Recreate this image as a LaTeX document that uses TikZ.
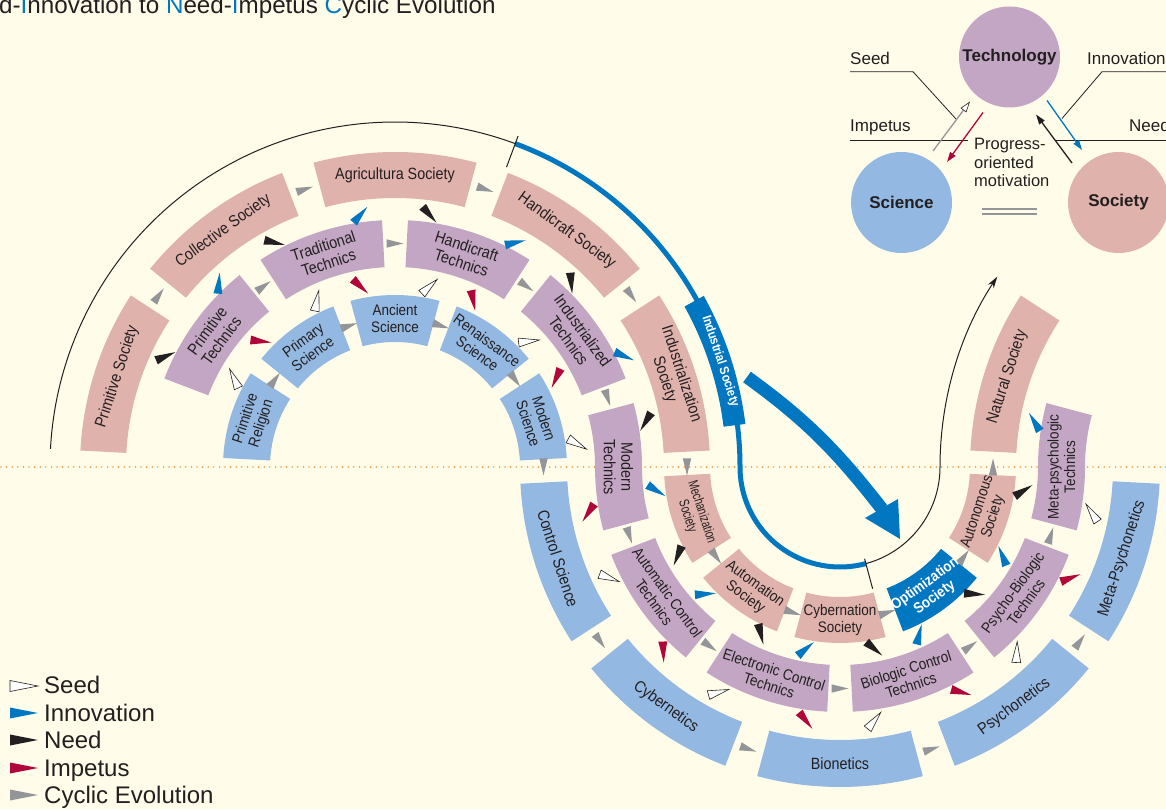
\documentclass[tikz,border=0pt]{standalone}
\usepackage{fontspec}
\setmainfont{Liberation Sans}
\newfontfamily\cond[FakeStretch=0.88]{Liberation Sans}
\newfontfamily\ccond[FakeStretch=0.72]{Liberation Sans}
\usetikzlibrary{calc,arrows.meta}
\definecolor{bg}{HTML}{FFFDE9}
\definecolor{soc}{HTML}{DFB2AB}
\definecolor{tec}{HTML}{C2A6C3}
\definecolor{sci}{HTML}{93B8E2}
\definecolor{iblue}{HTML}{0077C0}
\definecolor{ired}{HTML}{B1063A}
\definecolor{igray}{HTML}{939598}
\definecolor{ink}{HTML}{231F20}
\definecolor{dotor}{HTML}{F39A3B}
% annular sector: center, a1, a2, rin, rout, style
\newcommand\annsec[6]{\fill[#6] ($(#1)+(#2:#5pt)$) arc[start angle=#2,end angle=#3,radius=#5pt] -- ($(#1)+(#3:#4pt)$) arc[start angle=#3,end angle=#2,radius=#4pt] -- cycle;}
% cyclic (gray) arrow: center, angle, radius, direction
\newcommand\cycarr[4]{\fill[igray, shift={($(#1)+(#2:#3pt)$)}, rotate=#4] (8.5,0) -- (-8.5,4.2) -- (-8.5,-4.2) -- cycle;}
% radial arrow between two box centres
\newcommand\radarr[3]{\coordinate (m) at ($(#1)!0.5!(#2)$);
 \path[#3] ($(m)!10.5pt!(#2)$) -- ($(m)!11.4pt!157:(#2)$) -- ($(m)!11.4pt!-157:(#2)$) -- cycle;}
\tikzset{
 lbl/.style={font=\cond\fontsize{16.3}{17.5}\selectfont, text=ink, align=center, inner sep=0pt},
 lbm/.style={font=\cond\fontsize{15.3}{16.5}\selectfont, text=ink, align=center, inner sep=0pt},
 lbsm/.style={font=\ccond\fontsize{14}{15}\selectfont, text=ink, align=center, inner sep=0pt},
 lbw/.style={font=\cond\bfseries\fontsize{15}{16.5}\selectfont, text=white, align=center, inner sep=0pt},
 need/.style={fill=ink},
 innov/.style={fill=iblue},
 imp/.style={fill=ired},
 seedst/.style={fill=white, draw=ink, line width=0.6pt},
 lgd/.style={anchor=base west, font=\fontsize{24}{25}\selectfont, text=ink, inner sep=0pt},
 trl/.style={anchor=base west, font=\fontsize{17}{18}\selectfont, text=ink, inner sep=0pt},
 bigc/.style={circle, minimum size=101pt, inner sep=0pt, font=\bfseries\fontsize{17}{18}\selectfont, text=ink},
}
\begin{document}
\begin{tikzpicture}[x=1pt,y=1pt]
\fill[bg] (0,0) rectangle (1166,809);
\useasboundingbox (0,0) rectangle (1166,809);
\coordinate (C1) at (395,342);
\coordinate (C2) at (840,342);
\coordinate (C3) at (1285,342);

% dotted divider
\draw[dotor, line width=1.8pt, line cap=round, dash pattern=on 0pt off 5.6pt] (1,342) -- (1166,342);

% evolution path
\draw[ink, line width=1pt] ($(C1)+(177:345pt)$) arc[start angle=177,end angle=69.6,radius=345pt];
\draw[iblue, line width=5pt] ($(C1)+(69.6:345pt)$) arc[start angle=69.6,end angle=0,radius=345pt] arc[start angle=180,end angle=285,radius=100pt];
\draw[ink, line width=1pt, -{Stealth[length=12pt,width=7pt]}] ($(C2)+(285:100pt)$) arc[start angle=285,end angle=360,radius=100pt] arc[start angle=180,end angle=146.5,radius=345pt];
\draw[ink, line width=1pt] ($(C1)+(69.6:320pt)$) -- ($(C1)+(69.6:353pt)$);
\draw[ink, line width=1pt] ($(C2)+(285:95pt)$) -- ($(C2)+(285:126pt)$);
\annsec{C1}{7}{29}{331}{353}{iblue}
\node[font=\cond\bfseries\fontsize{13}{13.5}\selectfont, text=white, rotate=-72, inner sep=0pt] (indsoc) at ($(C1)+(18:342pt)$) {Industrial Society};

% society boxes
\annsec{C1}{147}{177}{269}{315}{soc}
\annsec{C1}{111}{141}{269}{315}{soc}
\annsec{C1}{75}{105}{269}{315}{soc}
\annsec{C1}{39}{69}{269}{315}{soc}
\annsec{C1}{3}{33}{269}{315}{soc}
\annsec{C2}{183}{213}{130}{176}{soc}
\annsec{C2}{219}{249}{130}{176}{soc}
\annsec{C2}{255}{285}{130}{176}{soc}
\annsec{C2}{291}{321}{130}{176}{iblue}
\annsec{C2}{327}{357}{130}{176}{soc}
\annsec{C3}{147}{177}{269}{315}{soc}

% technics boxes
\annsec{C1}{129}{159}{200}{247}{tec}
\annsec{C1}{93}{123}{200}{247}{tec}
\annsec{C1}{57}{87}{200}{247}{tec}
\annsec{C1}{21}{51}{200}{247}{tec}
\fill[tec] ($(C1)+(15:247pt)$) arc[start angle=15,end angle=0,radius=247pt] arc[start angle=180,end angle=195,radius=198pt] -- ($(C2)+(195:245pt)$) arc[start angle=195,end angle=180,radius=245pt] arc[start angle=0,end angle=15,radius=200pt] -- cycle;
\annsec{C2}{201}{231}{198}{245}{tec}
\annsec{C2}{237}{267}{198}{245}{tec}
\annsec{C2}{273}{303}{198}{245}{tec}
\annsec{C2}{309}{339}{198}{245}{tec}
\fill[tec] ($(C2)+(345:245pt)$) arc[start angle=345,end angle=360,radius=245pt] arc[start angle=180,end angle=165,radius=200pt] -- ($(C3)+(165:247pt)$) arc[start angle=165,end angle=180,radius=247pt] arc[start angle=0,end angle=-15,radius=198pt] -- cycle;

% science boxes
\annsec{C1}{147}{177}{125}{172}{sci}
\annsec{C1}{111}{141}{125}{172}{sci}
\annsec{C1}{75}{105}{125}{172}{sci}
\annsec{C1}{39}{69}{125}{172}{sci}
\annsec{C1}{3}{33}{125}{172}{sci}
\annsec{C2}{183}{213}{273}{320}{sci}
\annsec{C2}{219}{249}{273}{320}{sci}
\annsec{C2}{255}{285}{273}{320}{sci}
\annsec{C2}{291}{321}{273}{320}{sci}
\annsec{C2}{327}{357}{273}{320}{sci}

% box centres
\foreach \n/\a in {1/162,2/126,3/90,4/54,5/18} {\coordinate (s\n) at ($(C1)+(\a:292pt)$); \coordinate (c\n) at ($(C1)+(\a:148.5pt)$);}
\foreach \n/\a in {6/198,7/234,8/270,9/306,10/342} {\coordinate (s\n) at ($(C2)+(\a:153pt)$); \coordinate (c\n) at ($(C2)+(\a:296.5pt)$);}
\coordinate (s11) at ($(C3)+(162:292pt)$);
\foreach \n/\a in {1/144,2/108,3/72,4/36} {\coordinate (t\n) at ($(C1)+(\a:223.5pt)$);}
\coordinate (t5) at (618.5,342);
\foreach \n/\a in {6/216,7/252,8/288,9/324} {\coordinate (t\n) at ($(C2)+(\a:221.5pt)$);}
\coordinate (t10) at (1061.5,342);

% cyclic evolution arrows
\cycarr{C1}{144}{292}{54} \cycarr{C1}{108}{292}{18} \cycarr{C1}{72}{292}{-18} \cycarr{C1}{36}{292}{-54} \cycarr{C1}{0}{292}{-90}
\cycarr{C2}{216}{153}{306} \cycarr{C2}{252}{153}{342} \cycarr{C2}{288}{153}{378} \cycarr{C2}{324}{153}{414} \cycarr{C2}{0}{153}{90}
\cycarr{C1}{126}{223.5}{36} \cycarr{C1}{90}{223.5}{0} \cycarr{C1}{54}{223.5}{-36} \cycarr{C1}{18}{223.5}{-72}
\cycarr{C2}{198}{221.5}{288} \cycarr{C2}{234}{221.5}{324} \cycarr{C2}{270}{221.5}{360} \cycarr{C2}{306}{221.5}{396} \cycarr{C2}{342}{221.5}{432}
\cycarr{C1}{144}{148.5}{54} \cycarr{C1}{108}{148.5}{18} \cycarr{C1}{72}{148.5}{-18} \cycarr{C1}{36}{148.5}{-54} \cycarr{C1}{0}{148.5}{-90}
\cycarr{C2}{216}{296.5}{306} \cycarr{C2}{252}{296.5}{342} \cycarr{C2}{288}{296.5}{378} \cycarr{C2}{324}{296.5}{414}

% need (society -> technics)
\radarr{s1}{t1}{need} \radarr{s2}{t2}{need} \radarr{s3}{t3}{need} \radarr{s4}{t4}{need} \radarr{s5}{t5}{need}
\radarr{s6}{t6}{need} \radarr{s7}{t7}{need} \radarr{s8}{t8}{need} \radarr{s9}{t9}{need} \radarr{s10}{t10}{need}
% innovation (technics -> society)
\radarr{t1}{s2}{innov} \radarr{t2}{s3}{innov} \radarr{t3}{s4}{innov} \radarr{t4}{s5}{innov} \radarr{t5}{s6}{innov}
\radarr{t6}{s7}{innov} \radarr{t7}{s8}{innov} \radarr{t8}{s9}{innov} \radarr{t9}{s10}{innov} \radarr{t10}{s11}{innov}
% seed (science -> technics)
\radarr{c1}{t1}{seedst} \radarr{c2}{t2}{seedst} \radarr{c3}{t3}{seedst} \radarr{c4}{t4}{seedst} \radarr{c5}{t5}{seedst}
\radarr{c6}{t6}{seedst} \radarr{c7}{t7}{seedst} \radarr{c8}{t8}{seedst} \radarr{c9}{t9}{seedst} \radarr{c10}{t10}{seedst}
% impetus (technics -> science)
\radarr{t1}{c2}{imp} \radarr{t2}{c3}{imp} \radarr{t3}{c4}{imp} \radarr{t4}{c5}{imp} \radarr{t5}{c6}{imp}
\radarr{t6}{c7}{imp} \radarr{t7}{c8}{imp} \radarr{t8}{c9}{imp} \radarr{t9}{c10}{imp}

% labels
\node[lbl, rotate=72] (ns1) at (s1) {Primitive Society};
\node[lbl, rotate=36] (ns2) at (s2) {Collective Society};
\node[lbl] (ns3) at (s3) {Agricultura Society};
\node[lbl, rotate=-36] (ns4) at (s4) {Handicraft Society};
\node[lbl, rotate=-72] (ns5) at (s5) {Industrialization\\Society};
\node[lbsm, rotate=-72] (ns6) at (s6) {Mechanization\\Society};
\node[lbm, rotate=-36] (ns7) at (s7) {Automation\\Society};
\node[lbm] (ns8) at (s8) {Cybernation\\Society};
\node[lbw, rotate=36] (ns9) at (s9) {Optimization\\Society};
\node[lbm, rotate=72] (ns10) at (s10) {Autonomous\\Society};
\node[lbl, rotate=72] (ns11) at (s11) {Natural Society};

\node[lbl, rotate=54] (nt1) at (t1) {Primitive\\Technics};
\node[lbl, rotate=18] (nt2) at (t2) {Traditional\\Technics};
\node[lbl, rotate=-18] (nt3) at (t3) {Handicraft\\Technics};
\node[lbl, rotate=-54] (nt4) at (t4) {Industrialized\\Technics};
\node[lbl, rotate=-90] (nt5) at (t5) {Modern\\Technics};
\node[lbm, rotate=-54] (nt6) at (t6) {Automatic Control\\Technics};
\node[lbm, rotate=-18] (nt7) at (t7) {Electronic Control\\Technics};
\node[lbm, rotate=18] (nt8) at (t8) {Biologic Control\\Technics};
\node[lbm, rotate=54] (nt9) at (t9) {Psycho-Biologic\\Technics};
\node[lbm, rotate=90] (nt10) at (t10) {Meta-psychologic\\Technics};

\node[lbm, rotate=72] (nc1) at (c1) {Primitive\\Religion};
\node[lbm, rotate=36] (nc2) at (c2) {Primary\\Science};
\node[lbm] (nc3) at (c3) {Ancient\\Science};
\node[lbm, rotate=-36] (nc4) at (c4) {Renaissance\\Science};
\node[lbm, rotate=-72] (nc5) at (c5) {Modern\\Science};
\node[lbl, rotate=-72] (nc6) at (c6) {Control Science};
\node[lbl, rotate=-36] (nc7) at (c7) {Cybernetics};
\node[lbl] (nc8) at (c8) {Bionetics};
\node[lbl, rotate=36] (nc9) at (c9) {Psychonetics};
\node[lbl, rotate=72] (nc10) at (c10) {Meta-Psychonetics};

% big blue arrow
\coordinate (baA) at (747,432);
\coordinate (baB) at (882,300);
\draw[iblue, line width=13pt] (baA) to[out=-36,in=128] (baB);
\fill[iblue] (865,291) -- (900,270) -- (898,310) -- cycle;

% title
\node[anchor=base west, font=\fontsize{24.2}{26}\selectfont, text=ink, inner sep=0pt] (title) at (-1,795.5) {d-\textcolor{iblue}{I}nnovation to \textcolor{iblue}{N}eed-\textcolor{iblue}{I}mpetus \textcolor{iblue}{C}yclic Evolution};

% legend
\filldraw[fill=white, draw=ink, line width=0.6pt] (38,123) -- (10,128.5) -- (10,117.5) -- cycle;
\fill[iblue] (38,96) -- (10,101.5) -- (10,90.5) -- cycle;
\fill[ink] (38,69) -- (10,74.5) -- (10,63.5) -- cycle;
\fill[ired] (38,41) -- (10,46.5) -- (10,35.5) -- cycle;
\fill[igray] (38,14) -- (10,19.5) -- (10,8.5) -- cycle;
\node[lgd] (lg1) at (44,116) {Seed};
\node[lgd] (lg2) at (44,87.5) {Innovation};
\node[lgd] (lg3) at (44,61) {Need};
\node[lgd] (lg4) at (44,32.5) {Impetus};
\node[lgd] (lg5) at (44,6) {Cyclic Evolution};

% top-right schema
\node[bigc, fill=tec] (tech) at (1009.5,752) {Technology};
\node[bigc, fill=sci] (scien) at (901.5,606.5) {Science};
\node[bigc, fill=soc] (socy) at (1118.5,606.5) {Society};
\draw[ink, line width=0.8pt] (850,737.3) -- (913,737.3) -- (956,690);
\draw[ink, line width=0.8pt] (1166,737.3) -- (1102,737.3) -- (1062,690.5);
\draw[ink, line width=0.8pt] (850,669) -- (968,669);
\draw[ink, line width=0.8pt] (1056,669) -- (1166,669);
\node[trl] (tseed) at (850,744) {Seed};
\node[trl] (timp) at (850,677) {Impetus};
\node[trl] (tinn) at (1087,744) {Innovation};
\node[trl] (tneed) at (1129,677) {Need};
\coordinate (aS1) at (933,658); \coordinate (aS2) at (970,707.5);
\coordinate (aR1) at (983,696.5); \coordinate (aR2) at (947,647);
\coordinate (aB1) at (1047,708.5); \coordinate (aB2) at (1082,659);
\coordinate (aN1) at (1072,646); \coordinate (aN2) at (1036,694.5);
\draw[igray, line width=1.3pt, -{Triangle[length=11pt,width=7pt,fill=white,color=ink,line width=0.6pt]}] (aS1) -- (aS2);
\draw[ired, line width=1.3pt, -{Triangle[length=10pt,width=6.5pt]}] (aR1) -- (aR2);
\draw[iblue, line width=1.3pt, -{Triangle[length=10pt,width=6.5pt]}] (aB1) -- (aB2);
\draw[ink, line width=1.3pt, -{Triangle[length=10pt,width=6.5pt]}] (aN1) -- (aN2);
\node[anchor=north west, align=left, inner sep=0pt, font=\fontsize{16.5}{18.5}\selectfont, text=ink] (prog) at (974,671) {Progress-\\oriented\\motivation};
\draw[igray, line width=1.2pt] (982,600) -- (1037,600) (982,595) -- (1037,595);
\end{tikzpicture}
\end{document}
